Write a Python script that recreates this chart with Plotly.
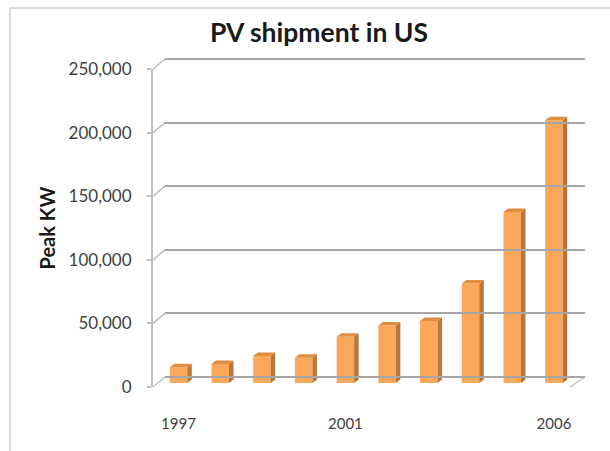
import plotly.graph_objects as go

# ---- data ----
years = ["1997", "1998", "1999", "2000", "2001", "2002", "2003", "2004", "2005", "2006"]
shown_labels = ["1997", "", "", "", "2001", "", "", "", "", "2006"]
peak_kw = [12400, 15000, 21200, 19800, 36300, 45300, 48700, 78300, 134500, 206500]
y_ticks = [0, 50000, 100000, 150000, 200000, 250000]
y_ticktext = ["0", "50,000", "100,000", "150,000", "200,000", "250,000"]

# ---- geometry helpers (pixel layout of the 610x451 canvas) ----
W, H = 610, 451
def px(x):
    return x / W
def py(y):
    return 1 - y / H

K = 1.272 / 1000.0          # pixels per unit value
BASE_PX = 383               # bar floor
BACK0_PX = 377              # back wall zero
FRONT0_PX = 387             # front axis zero
X0_PX, X1_PX = 153.5, 591.5
XR = [-0.6, 9.9]
UNIT_PX = (X1_PX - X0_PX) / (XR[1] - XR[0])

bar_w = 0.42
dx = 4.5 / UNIT_PX          # depth offset in x units
dy = 3.5 / K                # depth offset in value units

FRONT = "#FBA75A"
SIDE = "#B9763A"
TOP = "#E38D40"
GRID = "#A6A6A6"
AXIS = "#BFBFBF"
TXT = "#404040"
FONT = "Lato"

xs = list(range(len(years)))

fig = go.Figure()

# front faces
fig.add_trace(go.Bar(
    x=xs, y=peak_kw, width=bar_w, marker=dict(color=FRONT, line=dict(width=0)),
    xaxis="x", yaxis="y", hoverinfo="y", showlegend=False,
))

# side faces
sx, sy = [], []
for i, v in zip(xs, peak_kw):
    r = i + bar_w / 2
    sx += [r, r + dx, r + dx, r, r, None]
    sy += [0, dy, v + dy, v, 0, None]
fig.add_trace(go.Scatter(
    x=sx, y=sy, mode="lines", fill="toself", fillcolor=SIDE,
    line=dict(width=0, color=SIDE), xaxis="x", yaxis="y",
    hoverinfo="skip", showlegend=False,
))

# top faces
tx, ty = [], []
for i, v in zip(xs, peak_kw):
    l = i - bar_w / 2
    r = i + bar_w / 2
    tx += [l, l + dx, r + dx, r, l, None]
    ty += [v, v + dy, v + dy, v, v, None]
fig.add_trace(go.Scatter(
    x=tx, y=ty, mode="lines", fill="toself", fillcolor=TOP,
    line=dict(width=0, color=TOP), xaxis="x", yaxis="y",
    hoverinfo="skip", showlegend=False,
))

# placeholder traces so the decoration axes exist
fig.add_trace(go.Scatter(x=[None], y=[None], xaxis="x2", yaxis="y2",
                         showlegend=False, hoverinfo="skip"))
fig.add_trace(go.Scatter(x=[None], y=[None], xaxis="x3", yaxis="y3",
                         showlegend=False, hoverinfo="skip"))

# back-wall grid axis
g_lo, g_hi = -2000, 252000
y_top_main = 50

shapes = []
# diagonals from front axis ticks to back wall
for v in y_ticks:
    shapes.append(dict(type="line", xref="paper", yref="paper",
                       x0=px(153), y0=py(FRONT0_PX - v * K),
                       x1=px(165), y1=py(BACK0_PX - v * K),
                       line=dict(color=AXIS, width=1.5), layer="below"))
# right floor edge
shapes.append(dict(type="line", xref="paper", yref="paper",
                   x0=px(585), y0=py(BACK0_PX), x1=px(570), y1=py(FRONT0_PX),
                   line=dict(color=AXIS, width=1.5), layer="below"))
# chart-area border (left and top)
shapes.append(dict(type="line", xref="paper", yref="paper",
                   x0=px(10), y0=py(452), x1=px(10), y1=py(8),
                   line=dict(color="#D9D9D9", width=2)))
shapes.append(dict(type="line", xref="paper", yref="paper",
                   x0=px(10), y0=py(8), x1=px(612), y1=py(8),
                   line=dict(color="#D9D9D9", width=2)))

fig.update_layout(
    width=W, height=H,
    margin=dict(l=0, r=0, t=0, b=0, autoexpand=False),
    paper_bgcolor="white", plot_bgcolor="rgba(0,0,0,0)",
    font=dict(family=FONT, color=TXT),
    showlegend=False,
    title=dict(text="<b>PV shipment in US</b>", x=px(319), xanchor="center",
               y=py(33), yanchor="middle",
               font=dict(family=FONT, size=26.5, color="#1A1A1A")),
    xaxis=dict(domain=[px(X0_PX), px(X1_PX)], range=XR, anchor="y",
               automargin=False,
               tickmode="array", tickvals=xs, ticktext=shown_labels,
               ticks="outside", ticklen=27, tickcolor="rgba(0,0,0,0)",
               showgrid=False, zeroline=False, showline=False,
               tickfont=dict(size=15, color=TXT, family=FONT)),
    yaxis=dict(domain=[py(BASE_PX), py(y_top_main)],
               range=[0, (BASE_PX - y_top_main) / K], anchor="x",
               automargin=False,
               visible=False, showgrid=False, zeroline=False),
    xaxis2=dict(domain=[px(165), px(585)], range=[0, 1], anchor="y2",
                automargin=False, visible=False),
    yaxis2=dict(domain=[py(BACK0_PX - g_lo * K), py(BACK0_PX - g_hi * K)],
                range=[g_lo, g_hi], anchor="x2", automargin=False,
                tickmode="array", tickvals=y_ticks, showticklabels=False,
                showgrid=True, gridcolor=GRID, gridwidth=1.5,
                zeroline=False, showline=False, ticks=""),
    xaxis3=dict(domain=[px(153), px(585)], range=[0, 1], anchor="y3",
                automargin=False, visible=False),
    yaxis3=dict(domain=[py(FRONT0_PX), py(FRONT0_PX - 250000 * K)],
                range=[0, 250000], anchor="x3", automargin=False,
                tickmode="array", tickvals=y_ticks, ticktext=y_ticktext,
                showgrid=False, zeroline=False,
                showline=True, linecolor=AXIS, linewidth=2,
                ticks="outside", ticklen=4, tickcolor=AXIS, tickwidth=1.5,
                ticklabelstandoff=12,
                tickfont=dict(size=17, color=TXT, family=FONT),
                title=dict(text="<b>Peak KW</b>", standoff=8,
                           font=dict(size=20, color="#1A1A1A", family=FONT))),
    shapes=shapes,
)

fig.write_html(
    "out.html",
    config={"displayModeBar": False},
    post_script="document.body.style.margin='0';document.body.style.overflow='hidden';",
)
